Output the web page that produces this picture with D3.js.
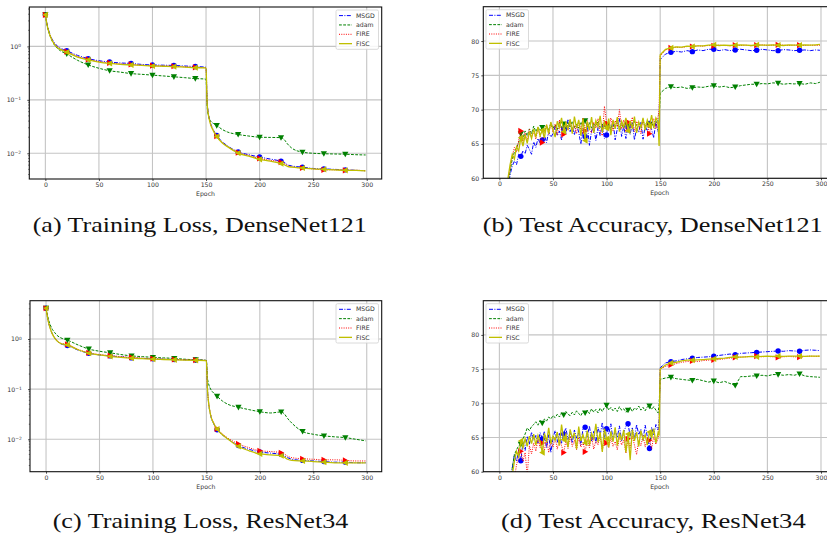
<!DOCTYPE html>
<html lang="en">
<head>
  <meta charset="UTF-8">
  <title>Training Loss and Test Accuracy</title>
  <script src="https://d3js.org/d3.v7.min.js"></script>
  <style>
    body { margin: 0; background: #fff; }
    .tick text { font-family: "DejaVu Sans", sans-serif; font-size: 6.2px; fill: #333; }
    .grid line { stroke: #c4c4c4; stroke-width: 1.1px; }
    .caption { font-family: "Liberation Serif", "DejaVu Serif", serif; font-size: 21px; fill: #111; }
    .xlabel, .legend text { font-family: "DejaVu Sans", sans-serif; font-size: 6.2px; fill: #333; }
  </style>
</head>
<body>
  <script>
    const width = 827, height = 537;

    const seriesNames = ["MSGD", "adam", "FIRE", "FISC"];

    // loss curves are smooth, sampled at these epochs
    const lossEpochs = [0, 2, 4, 6, 8, 10, 14, 20, 30, 40, 50, 60, 70, 80, 90, 100, 110, 120, 130, 140, 149,
      150, 151, 152, 154, 157, 160, 165, 170, 180, 190, 200, 210, 220, 223, 226, 230, 240, 250, 260, 270, 280, 290, 299];

    const lossDenseMSGD = [3.9, 2.4, 1.75, 1.4, 1.2, 1.07, 0.93, 0.83, 0.68, 0.59, 0.54, 0.51, 0.49, 0.48, 0.46, 0.45, 0.445, 0.44, 0.43, 0.42, 0.41,
      0.40, 0.095, 0.06, 0.038, 0.027, 0.0215, 0.0165, 0.0138, 0.0106, 0.0094, 0.0085, 0.0078, 0.0071, 0.0068, 0.0061, 0.0058, 0.0055, 0.0052, 0.0051, 0.0050, 0.0049, 0.0048, 0.0047];
    const lossDenseAdam = [3.9, 2.3, 1.65, 1.3, 1.1, 0.97, 0.83, 0.72, 0.55, 0.45, 0.39, 0.35, 0.33, 0.31, 0.30, 0.29, 0.28, 0.27, 0.26, 0.25, 0.245,
      0.24, 0.08, 0.052, 0.041, 0.036, 0.033, 0.028, 0.025, 0.0225, 0.021, 0.020, 0.0198, 0.0196, 0.018, 0.015, 0.0125, 0.0105, 0.0100, 0.0098, 0.0097, 0.0096, 0.0094, 0.0093];
    const lossDenseFIRE = [3.9, 2.35, 1.7, 1.35, 1.15, 1.03, 0.9, 0.8, 0.65, 0.57, 0.52, 0.49, 0.47, 0.46, 0.445, 0.435, 0.43, 0.425, 0.415, 0.405, 0.40,
      0.39, 0.092, 0.058, 0.037, 0.026, 0.021, 0.016, 0.0135, 0.0103, 0.0091, 0.0080, 0.0074, 0.0068, 0.0064, 0.0059, 0.0056, 0.0053, 0.0051, 0.0049, 0.0049, 0.0048, 0.0048, 0.0047];
    const lossDenseFISC = [3.9, 2.3, 1.68, 1.33, 1.13, 1.0, 0.88, 0.78, 0.63, 0.56, 0.51, 0.48, 0.46, 0.45, 0.44, 0.43, 0.425, 0.42, 0.41, 0.40, 0.395,
      0.385, 0.09, 0.056, 0.036, 0.026, 0.0205, 0.0158, 0.0133, 0.0101, 0.0088, 0.0077, 0.0071, 0.0064, 0.0061, 0.0057, 0.0055, 0.0053, 0.0051, 0.0050, 0.0049, 0.0048, 0.0048, 0.0047];

    const lossResMSGD = [4.1, 2.3, 1.6, 1.25, 1.05, 0.92, 0.8, 0.74, 0.6, 0.52, 0.48, 0.46, 0.44, 0.42, 0.41, 0.405, 0.395, 0.39, 0.385, 0.38, 0.375,
      0.37, 0.1, 0.055, 0.03, 0.02, 0.0155, 0.0122, 0.0102, 0.0075, 0.0063, 0.0056, 0.0053, 0.0050, 0.0047, 0.0043, 0.0040, 0.0038, 0.0037, 0.0036, 0.0035, 0.0035, 0.0034, 0.0034];
    const lossResAdam = [4.1, 2.6, 1.9, 1.55, 1.35, 1.2, 1.05, 0.95, 0.76, 0.63, 0.57, 0.53, 0.49, 0.46, 0.445, 0.43, 0.42, 0.41, 0.395, 0.385, 0.378,
      0.37, 0.17, 0.13, 0.1, 0.083, 0.072, 0.058, 0.05, 0.0435, 0.039, 0.0355, 0.0335, 0.0352, 0.032, 0.026, 0.021, 0.0143, 0.0126, 0.0117, 0.0112, 0.0108, 0.0100, 0.0093];
    const lossResFIRE = [4.1, 2.35, 1.62, 1.27, 1.07, 0.94, 0.82, 0.78, 0.62, 0.53, 0.49, 0.465, 0.445, 0.43, 0.415, 0.405, 0.395, 0.39, 0.385, 0.38, 0.375,
      0.37, 0.1, 0.057, 0.031, 0.021, 0.0162, 0.0128, 0.0106, 0.0081, 0.0068, 0.0059, 0.0057, 0.0054, 0.0051, 0.0046, 0.0043, 0.0041, 0.0040, 0.0039, 0.0039, 0.0038, 0.0037, 0.0037];
    const lossResFISC = [4.1, 2.3, 1.6, 1.25, 1.05, 0.93, 0.81, 0.76, 0.61, 0.52, 0.48, 0.45, 0.43, 0.415, 0.405, 0.395, 0.39, 0.385, 0.38, 0.375, 0.37,
      0.365, 0.1, 0.055, 0.03, 0.0205, 0.016, 0.0123, 0.0102, 0.0072, 0.0059, 0.0051, 0.0049, 0.0047, 0.0044, 0.0040, 0.0038, 0.0037, 0.0036, 0.0035, 0.0034, 0.0034, 0.0034, 0.0034];

    // accuracy: every 2nd epoch up to 148, then 149, then every 5th from 150, then 299
    const accEpochs = d3.range(0, 150, 2).concat([149], d3.range(150, 300, 5), [299]);

    const accDenseMSGD = [20, 40, 50, 55, 58.5, 60.5, 61.8, 62.5, 62, 63.5, 63.2, 64, 63.6, 64.8, 64.2, 63.5, 65.3, 64.5, 65.8, 65.1,
      65.6, 66.3, 65.2, 66.8, 66, 66.5, 67.5, 66.2, 66.9, 65.6, 67.2, 66.4, 68.6, 66.8, 67.5, 66.3, 67.9, 66.7, 65, 67.3,
      66.1, 67.8, 64.8, 66.9, 67.6, 65.5, 67.4, 66.2, 67.8, 65.8, 66.3, 67.9, 66.9, 68.3, 65.6, 67.2, 68.7, 66.1, 67.6, 65.8,
      67.5, 66.4, 68.1, 65.6, 67.3, 66.7, 68.2, 65.7, 67.6, 66.9, 68, 67.1, 65.9, 68.3, 66.8, 68.5,
      77.3, 78.1, 78.35, 78.5, 78.4, 78.6, 78.45, 78.7, 78.6, 78.8, 78.8, 78.6, 78.75, 78.6, 78.7, 78.8, 78.7, 78.6, 78.65, 78.8,
      78.7, 78.6, 78.6, 78.75, 78.7, 78.6, 78.65, 78.7, 78.6, 78.7, 78.65];
    const accDenseAdam = [25, 42, 51, 56, 59, 61, 62.8, 63.8, 64.5, 65.2, 66.5, 65.8, 66.9, 66.2, 67.2, 66.5, 67.6, 66.8, 67.4, 67,
      67.4, 66.8, 67.6, 67.1, 68, 67.3, 67.8, 67.1, 68.2, 67.4, 67.9, 67.2, 68.1, 67.5, 68.3, 67.4, 67.9, 67.3, 68.2, 67.6,
      68.4, 67.5, 68.1, 67.3, 68, 67.6, 68.3, 67.4, 67.9, 67.5, 67.7, 68.2, 67.4, 68.1, 67.6, 68.3, 67.5, 67.9, 67.3, 68.2,
      67.6, 68.1, 67.4, 68.3, 67.7, 68, 67.5, 68.2, 67.6, 68.4, 67.8, 68.1, 67.5, 68.3, 67.9, 68.2,
      72.4, 73.1, 73.35, 73.2, 73.3, 73.1, 73.2, 73.3, 73.25, 73.4, 73.5, 73.3, 73.4, 73.2, 73.3, 73.5, 73.6, 73.7, 73.7, 73.8,
      73.75, 73.9, 73.85, 73.7, 73.8, 73.75, 73.8, 73.7, 73.9, 73.8, 74.0];
    const accDenseFIRE = [22, 41, 52, 57, 59.5, 61.5, 63.2, 64.5, 63.8, 65.5, 66.9, 65.2, 66.6, 65.4, 67.1, 66, 66.8, 65.7, 67.3, 66.1,
      65.2, 66.9, 67.8, 66.4, 68.1, 66.7, 67.9, 66.3, 68.5, 66.9, 66.4, 68.2, 67, 68.6, 66.8, 67.7, 66.5, 68.3, 67.1, 68.8,
      66.9, 68.4, 67.2, 66.6, 68.2, 67.3, 68.7, 66.8, 66.2, 70.5, 68, 67.2, 68.8, 66.9, 68.4, 67.5, 70, 67.2, 68.5, 66.7,
      68.2, 67.4, 68.9, 66.8, 68.3, 67.6, 66.5, 68.6, 67.3, 68.1, 66.5, 67.9, 68.7, 67.2, 69, 70,
      77.8, 78.7, 79.0, 79.1, 79.05, 79.2, 79.2, 79.3, 79.25, 79.35, 79.3, 79.4, 79.35, 79.3, 79.4, 79.35, 79.4, 79.3, 79.4, 79.45,
      79.35, 79.4, 79.45, 79.4, 79.35, 79.4, 79.4, 79.35, 79.4, 79.35, 79.4];
    const accDenseFISC = [21, 43, 53, 57.5, 60, 62, 63.5, 62.8, 64.6, 64, 65.9, 64.7, 66.3, 65.1, 66.8, 65.8, 67.2, 66, 67.5, 66.2,
      67, 65.9, 67.8, 66.5, 68.2, 67.1, 66, 68.3, 67.4, 68.8, 66.8, 68.1, 67.2, 68.6, 66.5, 69, 67.3, 68.5, 66.2, 68.7,
      65.5, 68.3, 67, 68.9, 66.6, 68.4, 67.5, 69.1, 66.7, 68.2, 67.3, 68.7, 66.3, 68.5, 67.2, 68.9, 66.8, 68.3, 67.5, 68.8,
      66.9, 68.4, 67.2, 69, 66.6, 68.2, 67.4, 68.8, 67, 68.5, 67.6, 69.2, 67.3, 68.8, 68.2, 64.7,
      78.0, 78.8, 79.0, 79.15, 79.1, 79.25, 79.2, 79.3, 79.3, 79.4, 79.45, 79.35, 79.4, 79.35, 79.4, 79.45, 79.4, 79.35, 79.45, 79.4,
      79.4, 79.45, 79.4, 79.35, 79.45, 79.4, 79.4, 79.45, 79.4, 79.45, 79.5];

    const accResMSGD = [15, 30, 40, 48, 53, 57, 60.5, 62.5, 61.5, 63.2, 61.6, 64.3, 63.1, 65.2, 64, 65.8, 64.6, 65.3, 64.2, 65.7,
      64.8, 65.9, 63.5, 65.4, 62.8, 64.9, 66, 64.3, 65.6, 64.1, 65.5, 66.4, 64.7, 65.8, 64.2, 66.1, 64.9, 65.7, 63.9, 66.3,
      66.5, 65.1, 66.7, 64.4, 65.9, 64.2, 66.5, 65.3, 67.2, 64.8, 66.3, 65.5, 67, 64.6, 66.1, 65, 66.7, 64.5, 65.8, 66.6,
      67, 65.2, 66.4, 64.7, 66.9, 65.4, 66.2, 64.6, 66.8, 65.1, 63.4, 66.5, 65.3, 66.9, 66.1, 67.5,
      75.2, 75.9, 76.1, 76.2, 76.4, 76.5, 76.6, 76.7, 76.75, 76.8, 76.9, 77.0, 77.1, 77.2, 77.1, 77.3, 77.35, 77.4, 77.45, 77.5,
      77.55, 77.6, 77.65, 77.6, 77.7, 77.65, 77.6, 77.75, 77.8, 77.75, 77.7];
    const accResAdam = [18, 33, 43, 50, 55, 58.5, 60.5, 62.5, 63.2, 63.8, 64, 64.8, 65.5, 66.4, 66, 66.6, 66.9, 67.3, 66.8, 67.5,
      67.1, 67.7, 67.4, 68, 67.7, 68.2, 67.9, 68.4, 68, 68.6, 68.3, 68.8, 68.4, 68.2, 68.7, 68.3, 68.9, 68.5, 68.2, 68.8,
      68.6, 69, 68.5, 69.2, 68.7, 69.1, 68.6, 69.3, 68.8, 69.4, 69.7, 69, 69.4, 68.9, 69.3, 68.8, 69.5, 69, 69.2, 68.7,
      69, 69.4, 68.8, 69.3, 69.1, 69.6, 69, 69.4, 68.9, 69.5, 69.6, 69.1, 69.5, 69, 68.6, 69.8,
      73.5, 73.7, 73.8, 73.6, 73.5, 73.4, 73.35, 73.5, 73.3, 73.1, 73.25, 73.0, 73.2, 72.9, 72.6, 73.9, 73.9, 74.0, 74.0, 74.1,
      74.0, 74.2, 74.2, 74.1, 74.2, 74.1, 74.3, 74.0, 73.9, 73.85, 73.8];
    const accResFIRE = [12, 28, 38, 46, 51, 55, 57.5, 59, 61, 62.2, 63, 61.5, 62.8, 59.5, 63.8, 62.6, 64.2, 63, 64.8, 63.5,
      64.2, 63.1, 64.9, 62.8, 64.4, 63.6, 65, 63.3, 64.7, 63.8, 62.8, 64.5, 63.4, 65.2, 63.7, 64.6, 63.2, 65, 63.6, 64.3,
      62.9, 64.8, 63.5, 65.1, 63.3, 64.5, 63.9, 65.3, 63.1, 64.7, 64.2, 63.5, 65, 63.7, 64.4, 63.2, 65.1, 63.9, 64.6, 62.7,
      64.8, 63.5, 65.2, 63.9, 62.5, 64.6, 63.8, 65.3, 63.6, 64.9, 64.6, 63.4, 65.1, 64, 64.8, 66.5,
      75.0, 75.4, 75.6, 75.8, 76.0, 76.1, 76.2, 76.1, 76.25, 76.3, 76.35, 76.4, 76.5, 76.6, 76.7, 76.75, 76.8, 76.85, 76.9, 76.8,
      76.85, 76.8, 76.7, 76.8, 76.85, 76.8, 76.75, 76.85, 76.9, 76.85, 76.9];
    const accResFISC = [14, 29, 39, 47, 52, 56, 59.5, 61.5, 63, 62.2, 64.5, 63.5, 64.8, 63.7, 65.2, 64.1, 65.5, 63.9, 65.3, 64.4,
      62.8, 65.6, 64.3, 66.4, 64.1, 65.2, 64.6, 65.8, 63.8, 66.9, 64.7, 65.5, 63.6, 66.2, 64.9, 65.7, 63.3, 66.6, 64.5, 65.4,
      64.2, 66, 63.9, 65.6, 64.8, 67, 64.3, 65.8, 62.9, 66.3, 64.8, 63.6, 65.9, 64.4, 66.5, 63.8, 65.7, 64.6, 66.1, 62.8,
      65.5, 61.7, 66.2, 64.5, 65.8, 63.7, 66, 64.7, 65.4, 63.9, 65.8, 64.9, 66.3, 64.2, 65.7, 65.3,
      75.0, 75.6, 75.9, 76.0, 76.2, 76.3, 76.3, 76.35, 76.4, 76.45, 76.5, 76.55, 76.6, 76.7, 76.8, 76.75, 76.8, 76.85, 76.8, 76.85,
      76.9, 76.85, 76.9, 76.85, 76.9, 76.9, 76.9, 76.85, 76.9, 76.9, 76.9];

    const xTicks = [0, 50, 100, 150, 200, 250, 300];
    const accTicks = [60, 65, 70, 75, 80];
    const lossTicks = [1, 0.1, 0.01];

    const styles = {
      MSGD: { color: "#0000ff", dash: "4,1.4,1,1.4", marker: "circle", width: 1.0 },
      adam: { color: "#008000", dash: "2.8,1.4", marker: "down", width: 1.0 },
      FIRE: { color: "#ff0000", dash: "1,1.3", marker: "right", width: 1.0 },
      FISC: { color: "#bfbf00", dash: null, marker: "left", width: 1.3 }
    };

    const svg = d3.select("body").append("svg")
      .attr("width", width)
      .attr("height", height)
      .style("background-color", "#ffffff");

    const panels = [
      { id: "a", box: [29.3, 381.7, 7, 179], log: true, ydomain: [0.0033, 5.46], epochs: lossEpochs,
        data: [lossDenseMSGD, lossDenseAdam, lossDenseFIRE, lossDenseFISC], legend: "right",
        caption: "(a) Training Loss, DenseNet121", cap: [32.7, 366.7, 232] },
      { id: "b", box: [483.3, 836, 6.7, 178.3], log: false, ydomain: [60, 85], epochs: accEpochs,
        data: [accDenseMSGD, accDenseAdam, accDenseFIRE, accDenseFISC], legend: "left",
        caption: "(b) Test Accuracy, DenseNet121", cap: [482.7, 822.7, 232] },
      { id: "c", box: [30, 381.7, 300.7, 471.7], log: true, ydomain: [0.00226, 5.8], epochs: lossEpochs,
        data: [lossResMSGD, lossResAdam, lossResFIRE, lossResFISC], legend: "right",
        caption: "(c) Training Loss, ResNet34", cap: [52.7, 348.3, 528.3] },
      { id: "d", box: [483.3, 836, 300.7, 471.7], log: false, ydomain: [60, 85], epochs: accEpochs,
        data: [accResMSGD, accResAdam, accResFIRE, accResFISC], legend: "left",
        caption: "(d) Test Accuracy, ResNet34", cap: [501, 805.7, 528.3] }
    ];

    function markerPath(type, s) {
      if (type === "down") return `M${-s},${-s * 0.8}L${s},${-s * 0.8}L0,${s}Z`;
      if (type === "right") return `M${-s * 0.8},${-s}L${-s * 0.8},${s}L${s},0Z`;
      if (type === "left") return `M${s * 0.8},${-s}L${s * 0.8},${s}L${-s},0Z`;
      return null;
    }

    panels.forEach(p => {
      const [left, right, top, bottom] = p.box;
      const x = d3.scaleLinear().domain([-15, 314]).range([left, right]);
      const y = p.log
        ? d3.scaleLog().domain(p.ydomain).range([bottom, top])
        : d3.scaleLinear().domain(p.ydomain).range([bottom, top]);

      const g = svg.append("g");

      // grid
      const grid = g.append("g").attr("class", "grid");
      grid.selectAll("line.gx").data(xTicks).enter().append("line")
        .attr("x1", d => x(d)).attr("x2", d => x(d)).attr("y1", top).attr("y2", bottom);
      grid.selectAll("line.gy").data(p.log ? lossTicks : accTicks).enter().append("line")
        .attr("x1", left).attr("x2", right).attr("y1", d => y(d)).attr("y2", d => y(d));

      // clip lines to the plot area
      g.append("clipPath").attr("id", "clip-" + p.id)
        .append("rect").attr("x", left).attr("y", top).attr("width", right - left).attr("height", bottom - top);
      const plot = g.append("g").attr("clip-path", `url(#clip-${p.id})`);

      const line = d3.line()
        .x(d => x(d[0])).y(d => y(d[1]))
        .curve(p.log ? d3.curveMonotoneX : d3.curveLinear);

      seriesNames.forEach((name, i) => {
        const st = styles[name];
        const pts = p.epochs.map((e, j) => [e, p.data[i][j]]);
        plot.append("path")
          .datum(pts)
          .attr("fill", "none")
          .attr("stroke", st.color)
          .attr("stroke-width", st.width)
          .attr("stroke-dasharray", st.dash)
          .attr("d", line);

        const marks = pts.filter(d => d[0] % 20 === 0 && d[0] <= 280);
        if (st.marker === "circle") {
          plot.selectAll(null).data(marks).enter().append("circle")
            .attr("cx", d => x(d[0])).attr("cy", d => y(d[1])).attr("r", 2.7)
            .attr("fill", st.color);
        } else {
          plot.selectAll(null).data(marks).enter().append("path")
            .attr("transform", d => `translate(${x(d[0])},${y(d[1])})`)
            .attr("d", markerPath(st.marker, 3.1))
            .attr("fill", st.color);
        }
      });

      // axes
      const xAxis = d3.axisBottom(x).tickValues(xTicks).tickSize(2).tickPadding(1.6);
      const gx = g.append("g").attr("transform", `translate(0,${bottom})`).call(xAxis);
      gx.select(".domain").remove();
      gx.selectAll(".tick line").attr("stroke", "#000").attr("stroke-width", 0.7);

      if (p.log) {
        const yAxis = d3.axisLeft(y).tickValues(lossTicks).tickSize(2).tickPadding(6.3).tickFormat("");
        const gy = g.append("g").attr("transform", `translate(${left},0)`).call(yAxis);
        gy.select(".domain").remove();
        gy.selectAll(".tick line").attr("stroke", "#000").attr("stroke-width", 0.7);
        gy.selectAll(".tick text").each(function (d) {
          const t = d3.select(this);
          const exp = Math.round(Math.log10(d));
          t.append("tspan").text("10");
          t.append("tspan").attr("dy", "-0.45em").style("font-size", "4.4px")
            .text(exp < 0 ? "\u2212" + Math.abs(exp) : String(exp));
        });
        // minor ticks
        const minor = [];
        const lo = Math.floor(Math.log10(p.ydomain[0])), hi = Math.ceil(Math.log10(p.ydomain[1]));
        for (let k = lo; k < hi; k++) {
          for (let m = 2; m <= 9; m++) {
            const v = m * Math.pow(10, k);
            if (v >= p.ydomain[0] && v <= p.ydomain[1]) minor.push(v);
          }
        }
        g.selectAll(null).data(minor).enter().append("line")
          .attr("x1", left - 1.2).attr("x2", left).attr("y1", d => y(d)).attr("y2", d => y(d))
          .attr("stroke", "#000").attr("stroke-width", 0.5);
      } else {
        const yAxis = d3.axisLeft(y).tickValues(accTicks).tickSize(2).tickPadding(2.2);
        const gy = g.append("g").attr("transform", `translate(${left},0)`).call(yAxis);
        gy.select(".domain").remove();
        gy.selectAll(".tick line").attr("stroke", "#000").attr("stroke-width", 0.7);
      }

      // spines
      g.append("rect")
        .attr("x", left).attr("y", top).attr("width", right - left).attr("height", bottom - top)
        .attr("fill", "none").attr("stroke", "#111").attr("stroke-width", 1.1);

      g.append("text").attr("class", "xlabel")
        .attr("x", (left + right) / 2).attr("y", bottom + 16.8)
        .attr("text-anchor", "middle").text("Epoch");

      // legend
      const lx = p.legend === "right" ? 336 : 486;
      const ly = top + 3;
      const leg = g.append("g").attr("class", "legend");
      leg.append("rect")
        .attr("x", lx).attr("y", ly).attr("width", 42.5).attr("height", 39.3).attr("rx", 1.5)
        .attr("fill", "#fff").attr("fill-opacity", 0.85).attr("stroke", "#d0d0d0").attr("stroke-width", 0.8);
      seriesNames.forEach((name, i) => {
        const st = styles[name];
        const ry = ly + 5.6 + i * 9.35;
        leg.append("line")
          .attr("x1", lx + 3).attr("x2", lx + 16).attr("y1", ry).attr("y2", ry)
          .attr("stroke", st.color).attr("stroke-width", st.width)
          .attr("stroke-dasharray", st.dash);
        leg.append("text").attr("x", lx + 20).attr("y", ry).attr("dy", "0.35em").text(name);
      });

      // caption
      svg.append("text").attr("class", "caption")
        .attr("x", p.cap[0]).attr("y", p.cap[2])
        .attr("textLength", p.cap[1] - p.cap[0]).attr("lengthAdjust", "spacingAndGlyphs")
        .text(p.caption);
    });
  </script>
</body>
</html>
